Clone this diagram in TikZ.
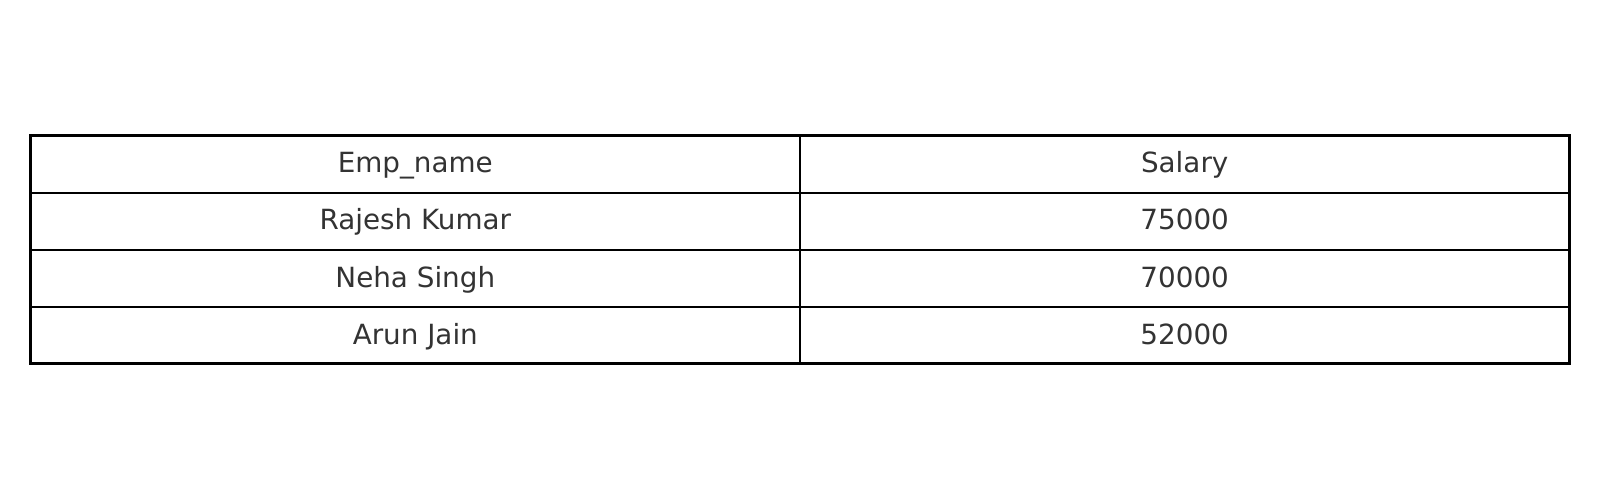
\documentclass[tikz,border=0pt]{standalone}
\usepackage{fontspec}
\setmainfont{DejaVu Sans}
\definecolor{txt}{HTML}{333333}
\tikzset{
  cell/.style={anchor=base, text=txt, font=\fontsize{27.8}{30}\selectfont, inner sep=0pt},
  gridline/.style={line width=2.7pt, black}
}
\begin{document}
\begin{tikzpicture}[x=1pt,y=-1pt]
\useasboundingbox (0,0) rectangle (1600,500);
\coordinate (tl) at (30.6,135.7);
\coordinate (br) at (1569.4,363.3);
\draw[gridline] (tl) rectangle (br);
\foreach \y in {192.9,250,307.1} \draw[gridline] (30.6,\y) -- (1569.4,\y);
\draw[gridline] (800,135.7) -- (800,363.3);
\node[cell] (h1) at (415.3,172.8) {Emp\_name};
\node[cell] (h2) at (1184.7,172.8) {Salary};
\node[cell] (a1) at (415.3,229.9) {Rajesh Kumar};
\node[cell] (a2) at (1184.7,229.9) {75000};
\node[cell] (b1) at (415.3,287.1) {Neha Singh};
\node[cell] (b2) at (1184.7,287.1) {70000};
\node[cell] (c1) at (415.3,344.2) {Arun Jain};
\node[cell] (c2) at (1184.7,344.2) {52000};
\end{tikzpicture}
\end{document}
